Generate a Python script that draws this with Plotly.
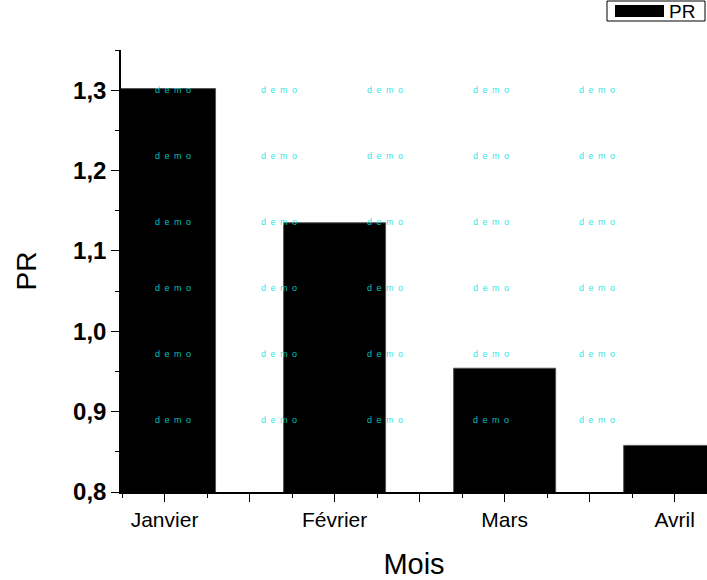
import plotly.graph_objects as go

months = ["Janvier", "Février", "Mars", "Avril"]
pr_values = [1.302, 1.135, 0.954, 0.858]
y_tick_vals = [0.8, 0.9, 1.0, 1.1, 1.2, 1.3]
y_tick_text = ["0,8", "0,9", "1,0", "1,1", "1,2", "1,3"]

xpos = list(range(len(months)))

W, H = 707, 580
L, R, T, B = 121, 0, 50, 88
PW, PH = W - L - R, H - T - B

def px(xx):
    return (xx - L) / PW

def py(yy):
    return (H - B - yy) / PH

fig = go.Figure()
fig.add_trace(go.Bar(
    x=xpos, y=pr_values, name="PR", width=0.6,
    marker=dict(color="black", line=dict(color="#555", width=1)),
    showlegend=False,
))

xt_vals = []
xt_text = []
for i, m in enumerate(months):
    xt_vals.append(i); xt_text.append(m)
    xt_vals.append(i + 0.5); xt_text.append("")

fig.update_layout(
    width=W, height=H,
    margin=dict(l=L, r=R, t=T, b=B, autoexpand=False),
    paper_bgcolor="white", plot_bgcolor="white",
    font=dict(family="Arial, Liberation Sans, sans-serif", color="black"),
    xaxis=dict(
        range=[-0.256, 3.19], automargin=False,
        tickmode="array", tickvals=xt_vals, ticktext=xt_text,
        ticks="outside", ticklen=8, tickwidth=1.2, tickcolor="black",
        minor=dict(tickmode="array", tickvals=[i + 0.25 for i in range(-1, 4)] + [i + 0.75 for i in range(-1, 4)],
                   ticks="outside", ticklen=4, tickwidth=1.2, tickcolor="black"),
        showline=True, linecolor="black", linewidth=1.5,
        showgrid=False, zeroline=False,
        tickfont=dict(size=21),
        title=dict(text="Mois", font=dict(size=29), standoff=31),
    ),
    yaxis=dict(
        range=[0.8, 1.35], automargin=False,
        tickmode="array", tickvals=y_tick_vals, ticktext=y_tick_text,
        ticks="outside", ticklen=8, tickwidth=1.2, tickcolor="black",
        minor=dict(tickmode="array", tickvals=[0.85, 0.95, 1.05, 1.15, 1.25, 1.35],
                   ticks="outside", ticklen=4, tickwidth=1.2, tickcolor="black"),
        showline=True, linecolor="black", linewidth=1.5,
        showgrid=False, zeroline=False,
        tickfont=dict(size=24, weight="bold"),
        title=dict(text="PR", font=dict(size=28), standoff=28),
    ),
)

# watermark
wm_x = [173, 279, 385, 491, 597]
wm_y = [90, 156, 222, 288, 354, 420]
for yy in wm_y:
    for xx in wm_x:
        fig.add_annotation(
            x=px(xx), y=py(yy), xref="paper", yref="paper",
            text="d\u2002e\u2002m\u2002o", showarrow=False,
            font=dict(size=9, color="rgba(0,225,225,0.85)"),
            xanchor="center", yanchor="middle",
        )

# legend drawn manually
fig.add_shape(type="rect", xref="paper", yref="paper",
              x0=px(607), x1=px(705), y0=py(21), y1=py(1),
              line=dict(color="black", width=1), fillcolor="white", layer="above")
fig.add_shape(type="rect", xref="paper", yref="paper",
              x0=px(615), x1=px(664), y0=py(17), y1=py(5),
              line=dict(color="black", width=0), fillcolor="black", layer="above")
fig.add_annotation(x=px(667), y=py(11), xref="paper", yref="paper",
                   text="PR", showarrow=False, xanchor="left", yanchor="middle",
                   font=dict(size=19, color="black"))

fig.write_html("out.html", config={"displayModeBar": False},
               post_script="document.body.style.margin='0';")
